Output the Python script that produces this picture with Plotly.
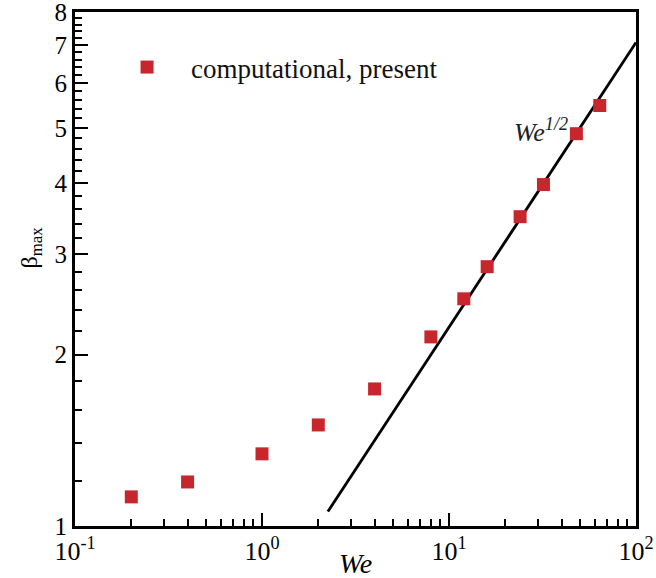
import plotly.graph_objects as go
import numpy as np

# Data
we_vals = [0.2, 0.4, 1.0, 2.0, 4.0, 8.0, 12.0, 16.0, 24.0, 32.0, 48.0, 64.0]
beta_vals = [1.125, 1.195, 1.339, 1.505, 1.741, 2.149, 2.507, 2.855, 3.495, 3.98, 4.89, 5.48]

# scaling line beta ~ We^(1/2)
line_we = [2.25, 100.0]
line_beta = [1.06, 7.07]

y_ticks = [1, 2, 3, 4, 5, 6, 7, 8]
y_minor = [1.2, 1.4, 1.6, 1.8, 2.2, 2.4, 2.6, 2.8, 3.2, 3.4, 3.6, 3.8,
           4.2, 4.4, 4.6, 4.8, 5.2, 5.4, 5.6, 5.8, 6.2, 6.4, 6.6, 6.8,
           7.2, 7.4, 7.6, 7.8]
x_ticks = [0.1, 1, 10, 100]
x_ticktext = ["10<sup>-1</sup>", "10<sup>0</sup>", "10<sup>1</sup>", "10<sup>2</sup>"]
x_minor = [0.2, 0.3, 0.4, 0.5, 0.6, 0.7, 0.8, 0.9,
           2, 3, 4, 5, 6, 7, 8, 9,
           20, 30, 40, 50, 60, 70, 80, 90]

FONT = "'Liberation Serif', 'Times New Roman', serif"
RED = "#C8262D"

fig = go.Figure()
fig.add_trace(go.Scatter(
    x=line_we, y=line_beta, mode="lines",
    line=dict(color="black", width=2.8), showlegend=False, hoverinfo="skip"))
fig.add_trace(go.Scatter(
    x=we_vals, y=beta_vals, mode="markers",
    marker=dict(symbol="square", size=13, color=RED, line=dict(width=0)),
    name="computational, present", showlegend=True))

fig.update_layout(
    width=656, height=578,
    margin=dict(l=75, r=20, t=12, b=52, autoexpand=False),
    paper_bgcolor="white", plot_bgcolor="white",
    font=dict(family=FONT, size=24, color="black"),
    showlegend=True,
    legend=dict(x=0.05, y=0.892, xanchor="left", yanchor="middle",
                bgcolor="rgba(0,0,0,0)", borderwidth=0,
                font=dict(family=FONT, size=27, color="#111"),
                itemwidth=78),
    xaxis=dict(type="log", range=[-1.00001, 2.00001], showgrid=False, zeroline=False,
               automargin=False, ticklabeloverflow="allow",
               showline=True, linecolor="black", linewidth=3, mirror=True,
               ticks="inside", ticklen=13, tickwidth=2, tickcolor="black",
               tickmode="array", tickvals=x_ticks, ticktext=x_ticktext,
               tickfont=dict(family=FONT, size=26),
               minor=dict(tickmode="array", tickvals=x_minor, ticks="inside",
                          ticklen=7, tickwidth=1.5, tickcolor="black", showgrid=False)),
    yaxis=dict(type="log", range=[-0.00001, np.log10(8) + 0.00001], showgrid=False, zeroline=False,
               automargin=False, ticklabeloverflow="allow",
               showline=True, linecolor="black", linewidth=3, mirror=True,
               ticks="inside", ticklen=13, tickwidth=2, tickcolor="black",
               tickmode="array", tickvals=y_ticks, ticktext=[str(v) for v in y_ticks],
               tickfont=dict(family=FONT, size=25),
               minor=dict(tickmode="array", tickvals=y_minor, ticks="inside",
                          ticklen=7, tickwidth=1.5, tickcolor="black", showgrid=False)),
)

# axis titles
fig.add_annotation(xref="paper", yref="paper", x=0.5, y=0, yshift=-37,
                   text="<i>We</i>", showarrow=False, font=dict(family=FONT, size=28),
                   xanchor="center", yanchor="middle")
fig.add_annotation(xref="paper", yref="paper", x=0, xshift=-44, y=0.542,
                   text="β<sub>max</sub>", textangle=-90, showarrow=False,
                   font=dict(family=FONT, size=24), xanchor="center", yanchor="middle")
# scaling label
fig.add_annotation(xref="x", yref="y", x=np.log10(30.9), y=np.log10(4.95),
                   text="<i>We<sup>1/2</sup></i>", showarrow=False,
                   font=dict(family=FONT, size=26, color="#222"),
                   xanchor="center", yanchor="middle")

fig.write_html("out.html")
